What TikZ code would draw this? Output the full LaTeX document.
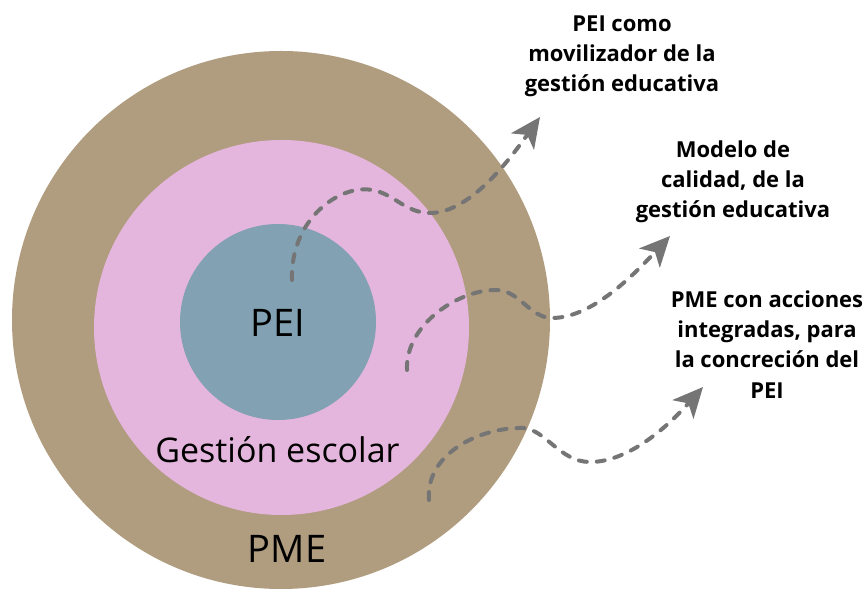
\documentclass[tikz,border=0pt]{standalone}
\usepackage{fontspec}
\setmainfont{Open Sans}
\definecolor{pmebrown}{HTML}{B09C7F}
\definecolor{gestpink}{HTML}{E5B6DD}
\definecolor{peiblue}{HTML}{82A1B2}
\definecolor{flowgray}{HTML}{757575}
\usetikzlibrary{arrows.meta,positioning}

\begin{document}
\begin{tikzpicture}[x=1pt,y=1pt,
  flow/.style={flowgray, line width=4pt, line cap=round, dash pattern=on 8pt off 10pt,
    -{Stealth[length=30pt,width=28pt,inset=8pt]}},
  goal/.style={align=center, inner sep=0pt, anchor=base, font=\bfseries\fontsize{22}{30}\selectfont}]
\useasboundingbox (0,0) rectangle (866,589);

% Circle PME - outer ring
\fill[pmebrown] (281,269) circle (269);

% Circle Gestion escolar
\fill[gestpink] (281.5,261.5) circle (187.5);

% Circle PEI - core
\fill[peiblue] (278,267) circle (98);

% Labels in the circles
\node[anchor=base, font=\fontsize{38}{40}\selectfont] (pei) at (277.5,252) {PEI};
\node[anchor=base, font=\fontsize{34}{38}\selectfont] (gestion) at (277.5,127) {Gestión escolar};
\node[anchor=base, font=\fontsize{38}{40}\selectfont] (pme) at (287,27) {PME};

% Labels on the right (base = last line)
\node[goal] (movil) at (622,497) {PEI como\\movilizador de la\\gestión educativa};
\node[goal] (modelo) at (733,371) {Modelo de\\calidad, de la\\gestión educativa};
\node[goal] (acciones) at (767,191) {PME con acciones\\integradas, para\\la concreción del\\PEI};

% Start and end points of the arrows
\coordinate (s1) at (292,309);
\coordinate (t1) at (540,472);
\coordinate (s2) at (407,219);
\coordinate (t2) at (670,353);
\coordinate (s3) at (429,89);
\coordinate (t3) at (703,202);

% Dashed arrows
\draw[flow] (s1) .. controls (290,370) and (340,405) .. (372,399)
  .. controls (395,395) and (405,376) .. (430,376)
  .. controls (470,376) and (510,430) .. (t1);
\draw[flow] (s2) .. controls (405,265) and (460,300) .. (497,299)
  .. controls (520,298) and (530,271) .. (552,271)
  .. controls (590,271) and (630,310) .. (t2);
\draw[flow] (s3) .. controls (425,135) and (480,162) .. (523,161)
  .. controls (545,160) and (560,127) .. (590,127)
  .. controls (630,127) and (670,165) .. (t3);
\end{tikzpicture}
\end{document}
